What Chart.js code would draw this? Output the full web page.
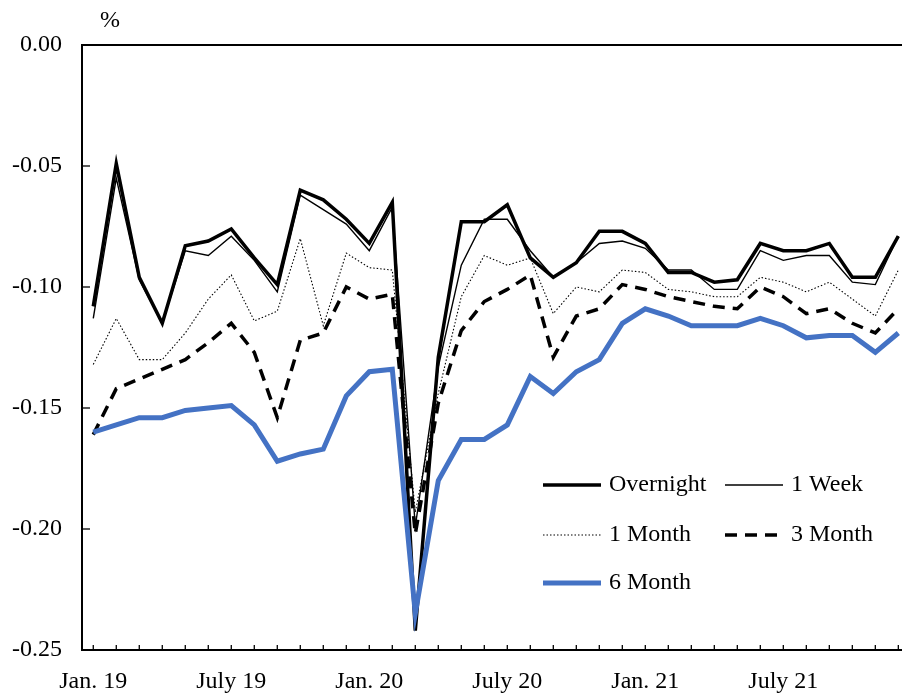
<!DOCTYPE html>
<html>
<head>
<meta charset="utf-8">
<script src="https://cdn.jsdelivr.net/npm/chart.js@4"></script>
<style>
  html, body { margin: 0; padding: 0; background: #fff; overflow: hidden; }
  #wrap { width: 902px; height: 696px; }
</style>
</head>
<body>
<div id="wrap"><canvas id="c" width="902" height="696"></canvas></div>
<script>
// ---- data ----
const months = [
  "Jan. 19","Feb. 19","Mar. 19","Apr. 19","May 19","June 19","July 19","Aug. 19","Sep. 19","Oct. 19","Nov. 19","Dec. 19",
  "Jan. 20","Feb. 20","Mar. 20","Apr. 20","May 20","June 20","July 20","Aug. 20","Sep. 20","Oct. 20","Nov. 20","Dec. 20",
  "Jan. 21","Feb. 21","Mar. 21","Apr. 21","May 21","June 21","July 21","Aug. 21","Sep. 21","Oct. 21","Nov. 21","Dec. 21"
];
const xTickLabels = ["Jan. 19","July 19","Jan. 20","July 20","Jan. 21","July 21"];
const yTickValues = [0, -0.05, -0.10, -0.15, -0.20, -0.25];

const overnight = [-0.108,-0.049,-0.096,-0.115,-0.083,-0.081,-0.076,-0.088,-0.099,-0.060,-0.064,-0.072,
                   -0.082,-0.065,-0.242,-0.129,-0.073,-0.073,-0.066,-0.088,-0.096,-0.090,-0.077,-0.077,
                   -0.082,-0.094,-0.094,-0.098,-0.097,-0.082,-0.085,-0.085,-0.082,-0.096,-0.096,-0.079];
const oneWeek   = [-0.113,-0.055,-0.097,-0.115,-0.085,-0.087,-0.079,-0.089,-0.102,-0.062,-0.068,-0.074,
                   -0.085,-0.067,-0.199,-0.133,-0.091,-0.072,-0.072,-0.085,-0.096,-0.090,-0.082,-0.081,
                   -0.084,-0.093,-0.093,-0.101,-0.101,-0.085,-0.089,-0.087,-0.087,-0.098,-0.099,-0.079];
const oneMonth  = [-0.132,-0.113,-0.130,-0.130,-0.119,-0.105,-0.095,-0.114,-0.110,-0.080,-0.116,-0.086,
                   -0.092,-0.093,-0.193,-0.144,-0.104,-0.087,-0.091,-0.088,-0.111,-0.100,-0.102,-0.093,
                   -0.094,-0.101,-0.102,-0.104,-0.104,-0.096,-0.098,-0.102,-0.098,-0.105,-0.112,-0.093];
const threeMonth= [-0.161,-0.142,-0.138,-0.134,-0.130,-0.123,-0.115,-0.127,-0.154,-0.122,-0.119,-0.100,
                   -0.105,-0.103,-0.202,-0.148,-0.118,-0.106,-0.101,-0.095,-0.129,-0.112,-0.109,-0.099,
                   -0.101,-0.104,-0.106,-0.108,-0.109,-0.100,-0.104,-0.111,-0.109,-0.115,-0.119,-0.109];
const sixMonth  = [-0.160,-0.157,-0.154,-0.154,-0.151,-0.150,-0.149,-0.157,-0.172,-0.169,-0.167,-0.145,
                   -0.135,-0.134,-0.235,-0.180,-0.163,-0.163,-0.157,-0.137,-0.144,-0.135,-0.130,-0.115,
                   -0.109,-0.112,-0.116,-0.116,-0.116,-0.113,-0.116,-0.121,-0.120,-0.120,-0.127,-0.119];
const seriesNames = ["Overnight","1 Week","1 Month","3 Month","6 Month"];

// ---- chart ----
const FONT = "'Liberation Serif', 'Times New Roman', serif";
const pts = arr => arr.map((v, i) => ({ x: i, y: v }));

const datasets = [
  { label: seriesNames[0], data: pts(overnight),  borderColor: '#000', borderWidth: 3.5, order: 5 },
  { label: seriesNames[1], data: pts(oneWeek),    borderColor: '#000', borderWidth: 1.4, order: 4 },
  { label: seriesNames[2], data: pts(oneMonth),   borderColor: '#000', borderWidth: 1.1, borderDash: [1.5, 2], order: 3 },
  { label: seriesNames[3], data: pts(threeMonth), borderColor: '#000', borderWidth: 3.5, borderDash: [12, 8], order: 2 },
  { label: seriesNames[4], data: pts(sixMonth),   borderColor: '#4472C4', borderWidth: 5, order: 1 }
].map(d => Object.assign({ pointRadius: 0, fill: false, tension: 0, borderJoinStyle: 'miter', borderCapStyle: 'butt' }, d));

const decor = {
  id: 'decor',
  beforeDatasetsDraw(chart) {
    const ctx = chart.ctx, a = chart.chartArea;
    const xs = chart.scales.x, ys = chart.scales.y;
    ctx.save();
    ctx.strokeStyle = '#000';
    ctx.lineWidth = 1.3;
    // inward x ticks
    months.forEach((m, i) => {
      const px = xs.getPixelForValue(i);
      ctx.beginPath(); ctx.moveTo(px, a.bottom); ctx.lineTo(px, a.bottom - 5); ctx.stroke();
    });
    // inward y ticks
    yTickValues.forEach(v => {
      const py = ys.getPixelForValue(v);
      ctx.beginPath(); ctx.moveTo(a.left, py); ctx.lineTo(a.left + 8, py); ctx.stroke();
    });
    // top border
    ctx.lineWidth = 2;
    ctx.beginPath(); ctx.moveTo(a.left - 1, a.top); ctx.lineTo(a.right, a.top); ctx.stroke();
    ctx.restore();
  },
  afterDraw(chart) {
    const ctx = chart.ctx, a = chart.chartArea;
    ctx.save();
    ctx.fillStyle = '#000';
    ctx.font = "24px " + FONT;
    ctx.textBaseline = 'middle';
    ctx.textAlign = 'center';
    ctx.fillText('%', a.left + 28, a.top - 24);
    // legend
    ctx.textAlign = 'left';
    const slots = [
      { c: 0, r: 0 }, { c: 1, r: 0 }, { c: 0, r: 1 }, { c: 1, r: 1 }, { c: 0, r: 2 }
    ];
    const colX = [543, 725], rowY = [485, 535, 583], lineLen = 58, gap = 8;
    chart.data.datasets.forEach((ds, i) => {
      const s = slots[i];
      const x = colX[s.c], y = rowY[s.r];
      ctx.save();
      ctx.strokeStyle = ds.borderColor;
      ctx.lineWidth = ds.borderWidth;
      ctx.setLineDash(ds.borderDash || []);
      ctx.beginPath(); ctx.moveTo(x, y); ctx.lineTo(x + lineLen, y); ctx.stroke();
      ctx.restore();
      ctx.fillText(ds.label, x + lineLen + gap, y);
    });
    ctx.restore();
  }
};

new Chart(document.getElementById('c'), {
  type: 'line',
  data: { datasets },
  options: {
    responsive: false,
    animation: false,
    devicePixelRatio: 1,
    layout: { padding: { top: 45, left: 0, right: 0, bottom: 0 } },
    plugins: { legend: { display: false }, tooltip: { enabled: false } },
    scales: {
      x: {
        type: 'linear',
        min: -0.49,
        max: 35.16,
        afterBuildTicks: s => { s.ticks = months.map((m, i) => ({ value: i })); },
        afterFit: s => { s.height = 46; s.paddingLeft = 0; s.paddingRight = 0; },
        grid: { display: true, drawOnChartArea: false, drawTicks: false },
        border: { display: true, color: '#000', width: 2 },
        ticks: {
          autoSkip: false, maxRotation: 0, padding: 17,
          color: '#000', font: { family: FONT, size: 24 },
          callback: v => xTickLabels.includes(months[v]) ? months[v] : ''
        }
      },
      y: {
        min: -0.25, max: 0,
        afterBuildTicks: s => { s.ticks = yTickValues.map(v => ({ value: v })); },
        afterFit: s => { s.width = 82; s.paddingTop = 0; s.paddingBottom = 0; },
        grid: { display: true, drawOnChartArea: false, drawTicks: false },
        border: { display: true, color: '#000', width: 2 },
        ticks: {
          padding: 20, color: '#000', font: { family: FONT, size: 24 },
          callback: v => v.toFixed(2)
        }
      }
    }
  },
  plugins: [decor]
});
</script>
</body>
</html>
